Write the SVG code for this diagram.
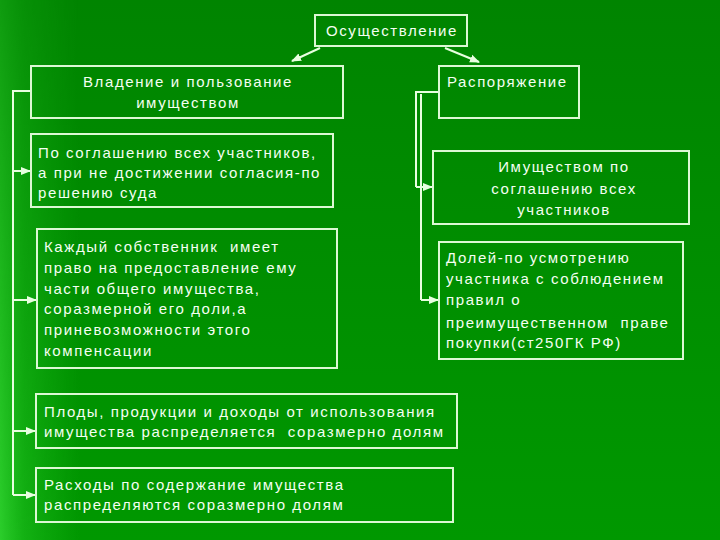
<svg xmlns="http://www.w3.org/2000/svg" width="720" height="540" viewBox="0 0 720 540">
<defs>
<linearGradient id="bg" x1="0" y1="0" x2="0" y2="1">
<stop offset="0" stop-color="#008400"/>
<stop offset="1" stop-color="#009800"/>
</linearGradient>
<linearGradient id="left" x1="0" y1="0" x2="1" y2="0">
<stop offset="0" stop-color="#3ae03a" stop-opacity="0.75"/>
<stop offset="0.3" stop-color="#2ad02a" stop-opacity="0.45"/>
<stop offset="1" stop-color="#20c020" stop-opacity="0"/>
</linearGradient>
<linearGradient id="fade" x1="0" y1="0" x2="0" y2="1">
<stop offset="0" stop-color="#fff" stop-opacity="0.35"/>
<stop offset="1" stop-color="#fff" stop-opacity="1"/>
</linearGradient>
<mask id="m"><rect width="720" height="540" fill="url(#fade)"/></mask>
<marker id="ah" viewBox="0 0 10 10" refX="9" refY="5" markerWidth="5" markerHeight="5" orient="auto">
<path d="M0,1 L10,5 L0,9 z" fill="#e8ffe0"/>
</marker>
</defs>
<style>
.box{fill:none;stroke:#dcf8d4;stroke-width:2}
.t{font-family:"Liberation Sans",Arial,sans-serif;font-size:15px;letter-spacing:1.6px;fill:#f4fff2}
.c{text-anchor:middle}
.ln{fill:none;stroke:#e8ffe0;stroke-width:2}
.ar{marker-end:url(#ah)}
</style>
<rect width="720" height="540" fill="url(#bg)"/>
<rect width="80" height="540" fill="url(#left)" mask="url(#m)"/>

<g id="connectors">
<path class="ln ar" d="M320,48 L292,61"/>
<path class="ln ar" d="M445,48 L479,62"/>
<path class="ln" d="M31,91 H13 V495"/>
<path class="ln ar" d="M13,171 H30"/>
<path class="ln ar" d="M13,300 H36"/>
<path class="ln ar" d="M13,431 H35"/>
<path class="ln ar" d="M13,495 H35"/>
<path class="ln" d="M439,92 H416 V187"/>
<path class="ln ar" d="M416,187 H432"/>
<path class="ln" d="M421,94 V300"/>
<path class="ln ar" d="M421,300 H438"/>
</g>

<g id="n_osush">
<rect class="box" x="315" y="15" width="152" height="31"/>
<text class="t c" x="392" y="36">Осуществление</text>
</g>
<g id="n_vladenie">
<rect class="box" x="31" y="66" width="312" height="52"/>
<text class="t c" x="188" y="87">Владение и пользование</text>
<text class="t c" x="188" y="108">имуществом</text>
</g>
<g id="n_rasp">
<rect class="box" x="439" y="66" width="140" height="52"/>
<text class="t" x="447" y="87">Распоряжение</text>
</g>
<g id="n_soglash">
<rect class="box" x="31" y="134" width="302" height="73"/>
<text class="t" x="38" y="158">По соглашению всех участников,</text>
<text class="t" x="38" y="178">а при не достижении согласия-по</text>
<text class="t" x="38" y="198">решению суда</text>
</g>
<g id="n_kazhdy">
<rect class="box" x="37" y="229" width="300" height="139"/>
<text class="t" x="44" y="252" xml:space="preserve">Каждый собственник  имеет</text>
<text class="t" x="44" y="273">право на предоставление ему</text>
<text class="t" x="44" y="294">части общего имущества,</text>
<text class="t" x="44" y="314">соразмерной его доли,а</text>
<text class="t" x="44" y="335">приневозможности этого</text>
<text class="t" x="44" y="356">компенсации</text>
</g>
<g id="n_imush">
<rect class="box" x="433" y="151" width="256" height="73"/>
<text class="t c" x="564" y="172">Имуществом по</text>
<text class="t c" x="564" y="194">соглашению всех</text>
<text class="t c" x="564" y="215">участников</text>
</g>
<g id="n_doley">
<rect class="box" x="439" y="242" width="244" height="117"/>
<text class="t" x="446" y="263">Долей-по усмотрению</text>
<text class="t" x="446" y="284">участника с соблюдением</text>
<text class="t" x="446" y="305">правил о</text>
<text class="t" x="446" y="328" xml:space="preserve">преимущественном  праве</text>
<text class="t" x="446" y="348">покупки(ст250ГК РФ)</text>
</g>
<g id="n_plody">
<rect class="box" x="36" y="394" width="421" height="54"/>
<text class="t" x="44" y="417">Плоды, продукции и доходы от использования</text>
<text class="t" x="44" y="437" xml:space="preserve">имущества распределяется  соразмерно долям</text>
</g>
<g id="n_rashody">
<rect class="box" x="36" y="468" width="417" height="54"/>
<text class="t" x="44" y="490">Расходы по содержание имущества</text>
<text class="t" x="44" y="510">распределяются соразмерно долям</text>
</g>
</svg>
